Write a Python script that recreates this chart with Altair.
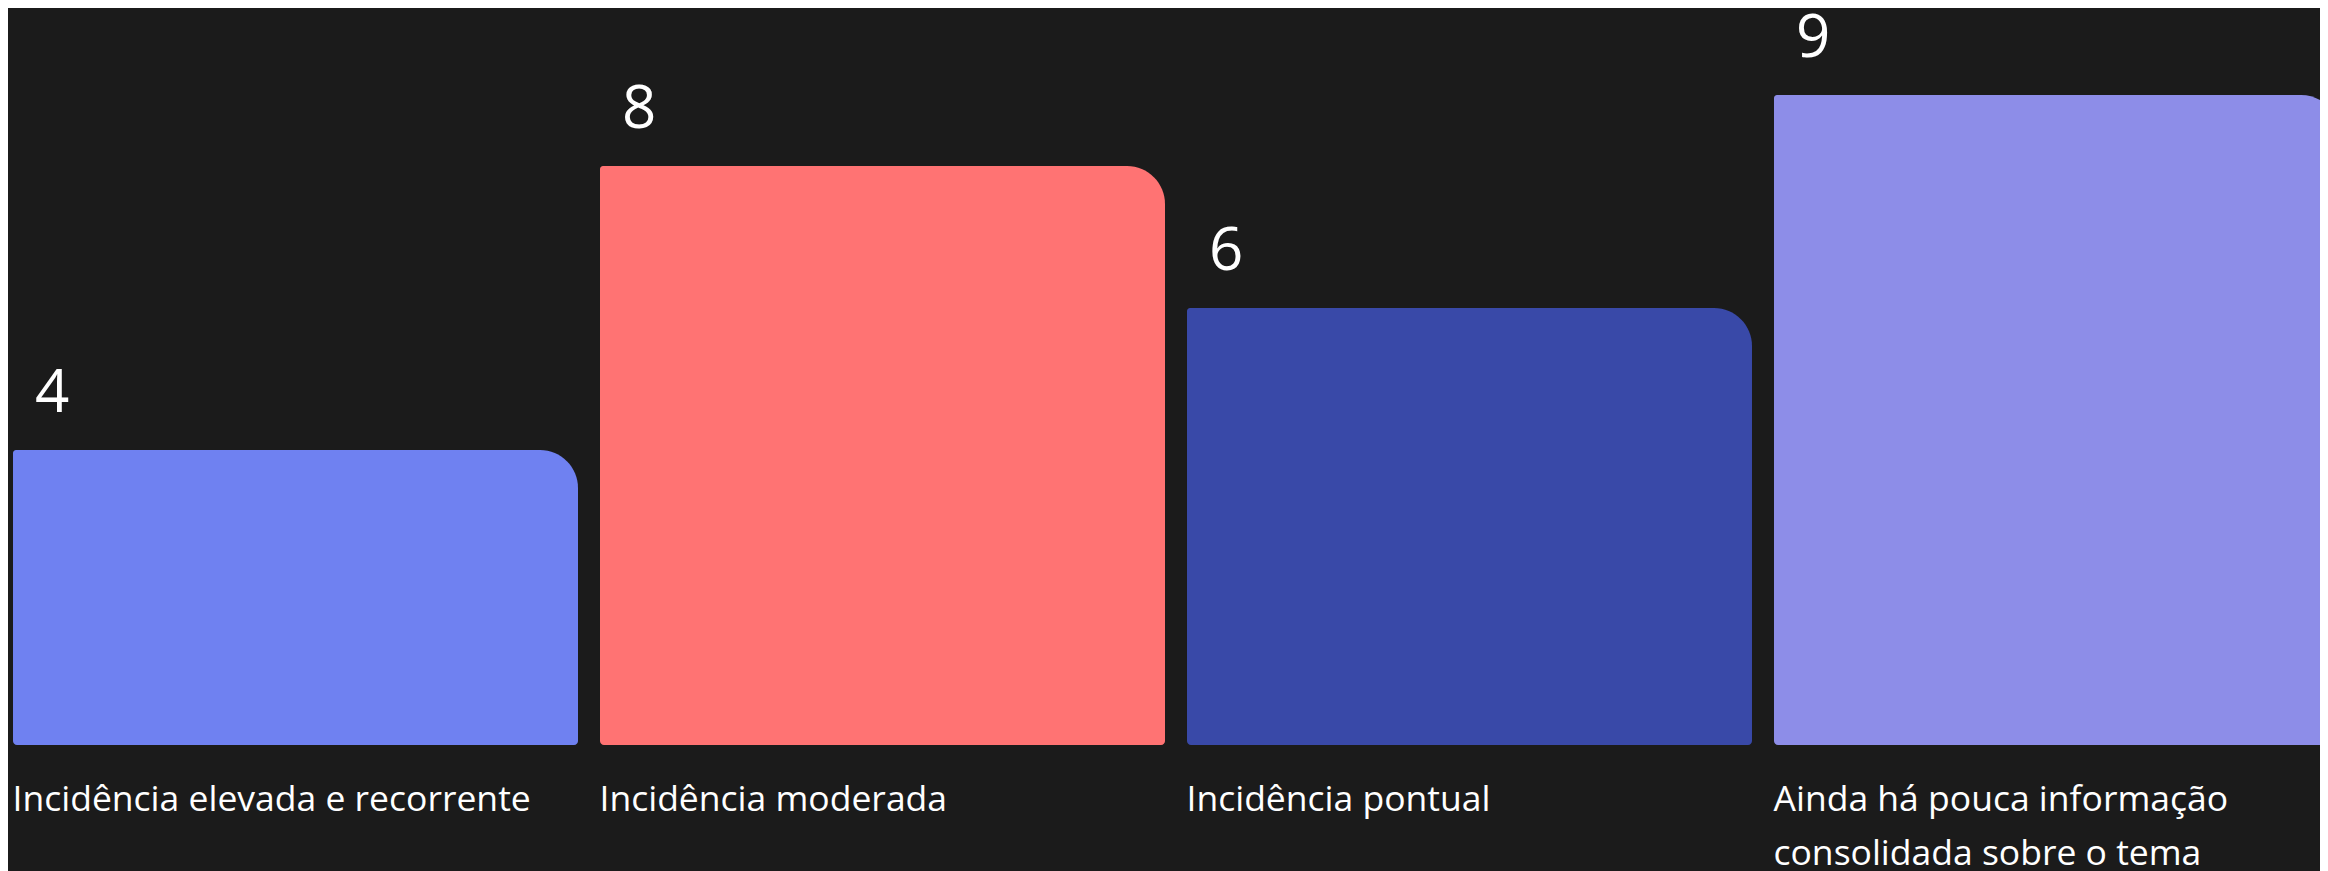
import altair as alt
import pandas as pd

# ---- data ----
categories = [
    "Incidência elevada e recorrente",
    "Incidência moderada",
    "Incidência pontual",
    "Ainda há pouca informação|consolidada sobre o tema",
]
values = [4, 8, 6, 9]
colors = ["#6F81F1", "#FF7373", "#3949A8", "#8D8DE8"]

Y_BASE = -0.155
Y_TOP = 10.225
FONT = "Open Sans"

df = pd.DataFrame({"categoria": categories, "valor": values, "cor": colors})

axis_x = alt.Axis(
    title=None,
    domain=False,
    ticks=False,
    tickSize=0,
    grid=False,
    labelAngle=0,
    labelAlign="left",
    labelBaseline="alphabetic",
    labelPadding=65,
    labelOffset=-271,
    labelFont=FONT,
    labelFontSize=35.5,
    labelColor="#ffffff",
    labelLimit=0,
    labelOverlap=False,
    labelLineHeight=54,
    labelExpr="split(datum.label, '|')",
)

x_scale = alt.Scale(paddingInner=0.0613, paddingOuter=0)
y_scale = alt.Scale(domain=[Y_BASE, Y_TOP], zero=False, nice=False)

bars = alt.Chart(df).mark_bar(
    width=565,
    xOffset=12,
    cornerRadiusTopRight=38,
    cornerRadiusTopLeft=3,
    cornerRadiusBottomLeft=4,
    cornerRadiusBottomRight=4,
).encode(
    x=alt.X("categoria:N", sort=categories, scale=x_scale, axis=axis_x),
    y=alt.Y("valor:Q", scale=y_scale, axis=None),
    y2=alt.datum(Y_BASE),
    color=alt.Color("cor:N", scale=None, legend=None),
)

value_labels = alt.Chart(df).mark_text(
    align="left",
    baseline="alphabetic",
    dx=27,
    dy=-38,
    font=FONT,
    fontSize=60,
    color="#ffffff",
).encode(
    x=alt.X("categoria:N", sort=categories, scale=x_scale, axis=axis_x, bandPosition=0),
    y=alt.Y("valor:Q", scale=y_scale, axis=None),
    text=alt.Text("valor:Q"),
)

chart = (
    alt.layer(bars, value_labels)
    .properties(
        width=2312,
        height=737,
        autosize=alt.AutoSizeParams(type="none"),
        padding={"left": 0, "top": 0, "right": 0, "bottom": 126},
        background="#1b1b1b",
    )
    .configure_view(stroke=None)
)

chart.save("out.html", embed_options={"renderer": "svg", "actions": False})
